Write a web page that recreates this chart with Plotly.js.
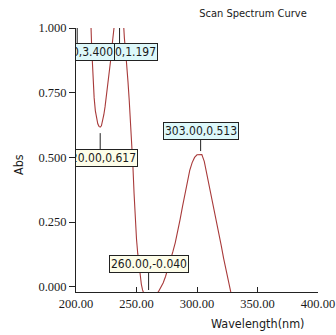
<!DOCTYPE html>
<html>
<head>
<meta charset="utf-8">
<script src="https://cdn.plot.ly/plotly-3.0.1.min.js"></script>
<style>html,body{margin:0;padding:0;background:#fff;}#chart{width:336px;height:335px;}</style>
</head>
<body>
<div id="chart"></div>
<script>
// ---- data ----
const wavelength = [200,201,202,204,206,208,210,212,213,214,215,216,217,218,219,220,221,222,223,224,225,226,227,228,229,230,231,232,234,236,238,239,240,241,242,243,244,245,246,247,248,249,250,251,252,253,254,255,256,258,260,262,264,266,268,270,272,274,276,278,280,282,284,286,288,290,292,294,296,298,300,302,303,304,306,308,310,312,314,316,318,320,322,324,326,328,330,332];
const absorbance = [3.30,3.40,3.35,3.00,2.50,1.95,1.45,1.06,0.92,0.80,0.73,0.68,0.65,0.63,0.62,0.617,0.622,0.64,0.665,0.695,0.73,0.77,0.81,0.85,0.89,0.94,0.98,1.03,1.13,1.197,1.12,1.03,0.96,0.91,0.86,0.79,0.72,0.65,0.57,0.47,0.36,0.26,0.185,0.13,0.085,0.045,0.01,-0.012,-0.025,-0.036,-0.040,-0.038,-0.034,-0.028,-0.02,-0.005,0.015,0.04,0.07,0.10,0.135,0.17,0.21,0.26,0.31,0.36,0.41,0.45,0.48,0.50,0.51,0.512,0.513,0.511,0.485,0.44,0.395,0.35,0.30,0.25,0.205,0.16,0.11,0.065,0.02,-0.025,-0.07,-0.11];
const peakWl = [201, 236, 303];
const peakAbs = [3.400, 1.197, 0.513];
const valleyWl = [220, 260];
const valleyAbs = [0.617, -0.040];
const xTickVals = [200, 250, 300, 350, 400];
const yTickVals = [0, 0.25, 0.5, 0.75, 1.0];
const chartTitle = 'Scan Spectrum Curve';
const xTitle = 'Wavelength(nm)';
const yTitle = 'Abs';

// ---- layout / style ----
const yMin = -0.02, yMax = 1.0;
const sansFamily = 'DejaVu Sans Condensed, DejaVu Sans, sans-serif';
const labelFont = {family: sansFamily, size: 12, color: '#1a1a1a'};
const tickFont = {family: 'Liberation Serif, Times New Roman, serif', size: 12.5, color: '#1a1a1a'};
const clampY = v => Math.min(Math.max(v, yMin), yMax);
const fmt = (w, a) => w.toFixed(2) + ',' + a.toFixed(3);

const labelAnns = [];
// valleys
valleyWl.forEach((w, i) => {
  const a = valleyAbs[i];
  labelAnns.push({
    x: w, y: clampY(a), xref: 'x', yref: 'y', text: fmt(w, a),
    showarrow: true, arrowhead: 0, arrowwidth: 1, arrowcolor: '#222',
    ax: 0, ay: (a > 0.3 ? 31 : -28), standoff: (a > 0.3 ? 6 : 2),
    bgcolor: '#fdfde9', bordercolor: '#222', borderwidth: 1, borderpad: 1,
    font: labelFont
  });
});
// peaks (reverse order so lower wavelength labels are drawn on top)
for (let i = peakWl.length - 1; i >= 0; i--) {
  const w = peakWl[i], a = peakAbs[i];
  const offTop = a > yMax;
  labelAnns.push({
    x: w, y: clampY(a), xref: 'x', yref: 'y', text: fmt(w, a),
    showarrow: true, arrowhead: 0, arrowwidth: 1, arrowcolor: '#222',
    ax: 0, ay: offTop ? 24 : -23, standoff: offTop ? 0 : 3,
    bgcolor: '#ddf8fa', bordercolor: '#222', borderwidth: 1, borderpad: 1,
    font: labelFont
  });
}
const nLabels = labelAnns.length;

const W = 336, H = 335, M = {l: 76, r: 18, t: 28, b: 43};
const pw = W - M.l - M.r, ph = H - M.t - M.b;
const otherAnns = [
  {xref: 'paper', yref: 'paper', x: (258 - M.l) / pw, y: -(323 - (M.t + ph)) / ph,
   xanchor: 'center', yanchor: 'middle', text: xTitle, showarrow: false,
   font: {family: sansFamily, size: 12.5, color: '#1a1a1a'}},
  {xref: 'paper', yref: 'paper', x: (18 - M.l) / pw, y: 1 - (165 - M.t) / ph,
   xanchor: 'center', yanchor: 'middle', text: yTitle, showarrow: false, textangle: -90,
   font: {family: sansFamily, size: 12.5, color: '#1a1a1a'}}
];

const trace = {
  x: wavelength, y: absorbance, type: 'scatter', mode: 'lines',
  line: {color: '#a83a3a', width: 1.1}, hoverinfo: 'skip'
};

const layout = {
  width: W, height: H, margin: M,
  paper_bgcolor: '#fff', plot_bgcolor: '#fff', showlegend: false,
  title: {text: chartTitle, xref: 'container', yref: 'container', x: 253 / W, xanchor: 'center',
          y: 1 - 13 / H, yanchor: 'middle',
          font: {family: sansFamily, size: 11, color: '#1a1a1a'}},
  xaxis: {range: [200, 400], tickvals: xTickVals, tickformat: '.2f', ticks: 'inside', ticklen: 5,
          tickcolor: '#222', showline: true, linecolor: '#222', linewidth: 1, showgrid: false,
          zeroline: false, tickfont: tickFont, fixedrange: true},
  yaxis: {range: [yMin, yMax], tickvals: yTickVals, tickformat: '.3f', ticks: 'outside', ticklen: 6,
          tickcolor: '#222', showline: true, linecolor: '#222', linewidth: 1, showgrid: false,
          zeroline: false, tickfont: tickFont, fixedrange: true},
  annotations: labelAnns.concat(otherAnns)
};

Plotly.newPlot('chart', [trace], layout, {staticPlot: true, displayModeBar: false}).then(gd => {
  const s = gd._fullLayout._size;
  const ns = 'http://www.w3.org/2000/svg';
  const anns = gd.querySelectorAll('.infolayer .annotation');
  anns.forEach(g => {
    const idx = +g.getAttribute('data-index');
    if (idx >= nLabels) return;
    const svg = g.ownerSVGElement;
    let cp = svg.querySelector('#labelclip');
    if (!cp) {
      let defs = svg.querySelector('defs');
      if (!defs) { defs = document.createElementNS(ns, 'defs'); svg.insertBefore(defs, svg.firstChild); }
      cp = document.createElementNS(ns, 'clipPath');
      cp.setAttribute('id', 'labelclip');
      const r = document.createElementNS(ns, 'rect');
      r.setAttribute('x', s.l); r.setAttribute('y', s.t - 4);
      r.setAttribute('width', s.w); r.setAttribute('height', s.h + 4);
      cp.appendChild(r); defs.appendChild(cp);
    }
    g.setAttribute('clip-path', 'url(#labelclip)');
  });
});
</script>
</body>
</html>
